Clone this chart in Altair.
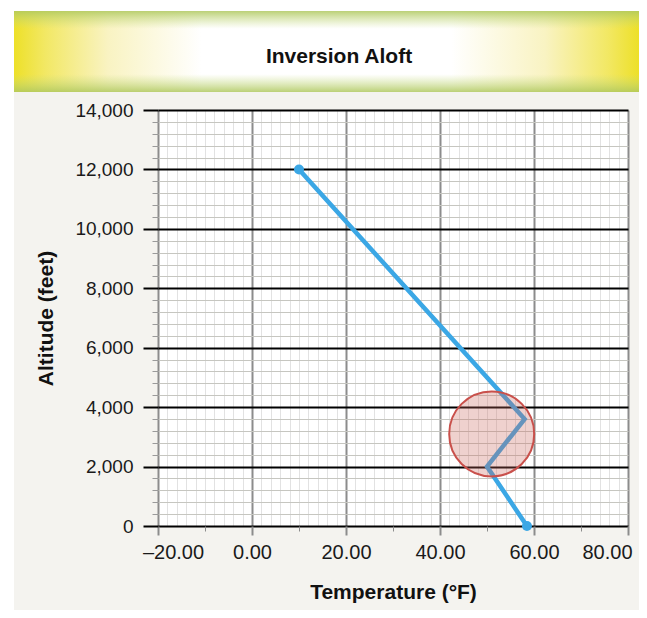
import altair as alt
import pandas as pd

# ---- data ----
temps = [58.5, 50, 58, 10]          # temperature (°F)
alts = [0, 2000, 3600, 12000]        # altitude (feet)
seq = [0, 1, 2, 3]
end_points = [0, 3]                  # indices of the dotted end points

circle_temp = [51]
circle_alt = [3100]

x_ticks = list(range(-20, 81, 2))
y_ticks = list(range(0, 14001, 400))

title_text = "Inversion Aloft"
x_title = "Temperature (°F)"
y_title = "Altitude (feet)"

FONT = "Liberation Sans"

profile = pd.DataFrame({"temp": temps, "alt": alts, "seq": seq})
ends = profile.iloc[end_points]
circ = pd.DataFrame({"temp": circle_temp, "alt": circle_alt})
one = pd.DataFrame({"k": [0]})

x_axis = alt.Axis(
    values=x_ticks,
    title=x_title,
    grid=True,
    gridColor={"condition": {"test": "datum.value % 20 === 0", "value": "#8c8c8c"}, "value": "#e2e2e2"},
    gridWidth={"condition": {"test": "datum.value % 20 === 0", "value": 2}, "value": 1},
    tickColor="#8c8c8c",
    tickWidth={"condition": {"test": "datum.value % 20 === 0", "value": 2}, "value": 1},
    tickSize={"condition": {"test": "datum.value % 20 === 0", "value": 9}, "value": 5},
    tickOpacity={"condition": {"test": "datum.value % 10 === 0", "value": 1}, "value": 0},
    labelExpr="datum.value % 20 === 0 ? (datum.value < 0 ? '\u2013' + format(-datum.value, '.2f') : format(datum.value, '.2f')) : ''",
    labelOffset={"condition": [
        {"test": "datum.value === -20", "value": 15},
        {"test": "datum.value === 80", "value": -21},
    ], "value": 0},
    labelFont=FONT, labelFontSize=20, labelColor="#1a1a1a",
    labelPadding=7, labelOverlap=False, labelFlush=False,
    domain=False,
    titleFont=FONT, titleFontSize=21, titleFontWeight="bold", titleColor="#111",
    titlePadding=19,
)

y_axis = alt.Axis(
    values=y_ticks,
    title=y_title,
    grid=True,
    gridColor={"condition": {"test": "datum.value % 2000 === 0", "value": "#000000"}, "value": "#c6c6c0"},
    gridWidth={"condition": {"test": "datum.value % 2000 === 0", "value": 2}, "value": 1},
    tickColor={"condition": {"test": "datum.value % 2000 === 0", "value": "#000000"}, "value": "#9a9a9a"},
    tickWidth={"condition": {"test": "datum.value % 2000 === 0", "value": 2}, "value": 1},
    tickSize={"condition": {"test": "datum.value % 2000 === 0", "value": 15}, "value": 6},
    labelExpr="datum.value % 2000 === 0 ? format(datum.value, ',') : ''",
    labelFont=FONT, labelFontSize=19, labelColor="#1a1a1a",
    labelPadding=10, labelOverlap=False, labelFlush=False,
    domain=False,
    titleFont=FONT, titleFontSize=21, titleFontWeight="bold", titleColor="#111",
    titlePadding=18,
)

X = alt.X("temp:Q", scale=alt.Scale(domain=[-20, 80], nice=False, zero=False), axis=x_axis)
Y = alt.Y("alt:Q", scale=alt.Scale(domain=[0, 14000], nice=False, zero=False), axis=y_axis)

# page decorations (outside the plot area)
strip_left = alt.Chart(one).mark_rect(fill="white").encode(
    x=alt.value(-150), x2=alt.value(-144), y=alt.value(-102), y2=alt.value(500))
strip_top = alt.Chart(one).mark_rect(fill="white").encode(
    x=alt.value(-150), x2=alt.value(481), y=alt.value(-102), y2=alt.value(-99))

band_h = alt.Chart(one).mark_rect(
    fill=alt.Gradient(
        gradient="linear", x1=0, x2=1, y1=0, y2=0,
        stops=[
            alt.GradientStop(color="#ede028", offset=0),
            alt.GradientStop(color="#f2e864", offset=0.05),
            alt.GradientStop(color="#f9f3c2", offset=0.15),
            alt.GradientStop(color="#ffffff", offset=0.3),
            alt.GradientStop(color="#ffffff", offset=0.7),
            alt.GradientStop(color="#f9f3c2", offset=0.85),
            alt.GradientStop(color="#f2e864", offset=0.95),
            alt.GradientStop(color="#ede028", offset=1),
        ],
    )
).encode(x=alt.value(-144), x2=alt.value(481), y=alt.value(-99), y2=alt.value(-18))

band_v = alt.Chart(one).mark_rect(
    fill=alt.Gradient(
        gradient="linear", x1=0, x2=0, y1=0, y2=1,
        stops=[
            alt.GradientStop(color="rgba(175,200,95,0.85)", offset=0),
            alt.GradientStop(color="rgba(200,220,130,0.0)", offset=0.22),
            alt.GradientStop(color="rgba(200,220,130,0.0)", offset=0.78),
            alt.GradientStop(color="rgba(175,200,95,0.85)", offset=1),
        ],
    )
).encode(x=alt.value(-144), x2=alt.value(481), y=alt.value(-99), y2=alt.value(-18))

title = alt.Chart(one).mark_text(
    text=title_text, font=FONT, fontSize=21, fontWeight="bold", color="#111",
    align="center", baseline="middle",
).encode(x=alt.value(181), y=alt.value(-53))

line = alt.Chart(profile).mark_line(color="#3ba7e5", strokeWidth=4.5).encode(
    x=X, y=Y, order="seq:Q")

dots = alt.Chart(ends).mark_point(filled=True, size=100, color="#3ba7e5", opacity=1).encode(
    x=X, y=Y)

ring = alt.Chart(circ).mark_point(
    shape="circle", size=7225, filled=False, fill="#c9685e", fillOpacity=0.3,
    stroke="#c9504b", strokeWidth=2, opacity=1,
).encode(x=X, y=Y)

chart = alt.layer(
    strip_left, strip_top, band_h, band_v, title, line, dots, ring
).properties(
    width=470, height=416,
    padding={"left": 150, "top": 102, "right": 11, "bottom": 84},
    autosize=alt.AutoSizeParams(type="none"),
    background="#f4f3ef",
).configure_view(fill="white", stroke=None)

chart.save("out.html", embed_options={"renderer": "svg", "actions": False})
